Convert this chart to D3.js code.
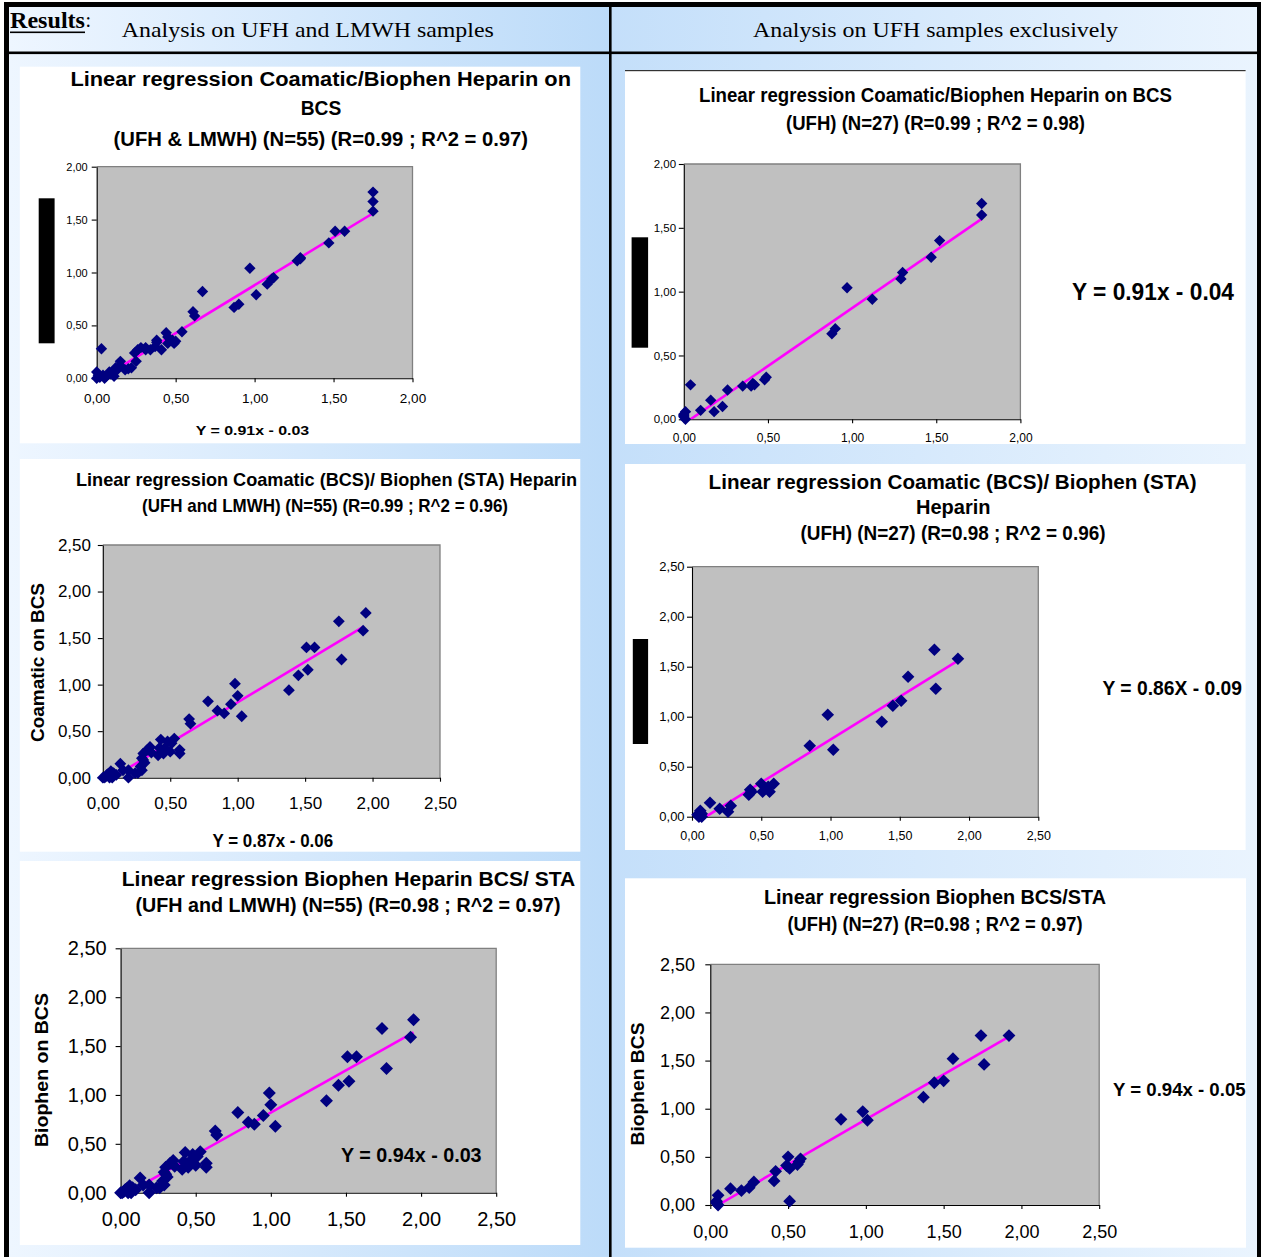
<!DOCTYPE html>
<html><head><meta charset="utf-8">
<script src="https://cdn.jsdelivr.net/npm/d3@7"></script>
<style>html,body{margin:0;padding:0;background:#fff;overflow:hidden}svg{display:block}</style>
</head><body><svg id="c" width="1261" height="1257"></svg>
<script>
// ---------- data ----------
const ticksTo2 = [0, 0.5, 1, 1.5, 2];
const ticksTo25 = [0, 0.5, 1, 1.5, 2, 2.5];
const labelsTo2 = ["0,00", "0,50", "1,00", "1,50", "2,00"];
const labelsTo25 = ["0,00", "0,50", "1,00", "1,50", "2,00", "2,50"];

const headerLeft = "Analysis on UFH and LMWH samples";
const headerRight = "Analysis on UFH samples exclusively";

// Panel 1: Coamatic/Biophen on BCS (UFH & LMWH)
const p1X = [1.75,1.75,1.75,1.57,1.51,1.47,1.29,1.27,1.12,1.11,1.08,0.97,1.01,0.90,0.87,0.67,0.61,0.62,0.54,0.49,0.48,0.45,0.44,0.38,0.37,0.41,0.34,0.31,0.28,0.26,0.24,0.25,0.22,0.18,0.15,0.12,0.11,0.08,0.03,0.00,0.01,0.05,0.00,0.02,0.04,0.06,0.09,0.13,0.15,0.20,0.31,0.50,0.38,1.29,0.45];
const p1Y = [1.76,1.67,1.58,1.39,1.39,1.28,1.14,1.11,0.95,0.94,0.89,1.04,0.79,0.70,0.67,0.82,0.63,0.59,0.44,0.33,0.36,0.39,0.43,0.36,0.30,0.27,0.27,0.27,0.29,0.27,0.24,0.16,0.10,0.08,0.16,0.10,0.02,0.06,0.28,0.06,0.03,0.00,0.00,0.01,0.03,0.02,0.04,0.08,0.12,0.09,0.29,0.35,0.34,1.13,0.33];
const p1TrendX = [0.03, 1.75];
const p1TrendY = [0.00, 1.56];

// Panel 2: Coamatic/Biophen on BCS (UFH)
const p2X = [1.77,1.77,1.52,1.47,1.30,1.29,0.97,1.12,0.90,0.88,0.49,0.48,0.42,0.40,0.35,0.26,0.23,0.16,0.18,0.10,0.04,0.01,0.00,0.01,0.00,0.00,0.41];
const p2Y = [1.69,1.60,1.40,1.27,1.15,1.10,1.03,0.94,0.71,0.67,0.33,0.31,0.27,0.26,0.26,0.23,0.10,0.15,0.06,0.07,0.27,0.06,0.02,0.00,0.03,0.04,0.28];
const p2TrendX = [0.04, 1.77];
const p2TrendY = [0.00, 1.57];

// Panel 3: Coamatic (BCS) / Biophen (STA) (UFH and LMWH)
const p3X = [1.95,1.93,1.75,1.77,1.51,1.57,1.52,1.45,1.38,0.98,1.00,0.95,1.03,0.90,0.85,0.78,0.64,0.65,0.57,0.57,0.53,0.51,0.50,0.46,0.43,0.42,0.41,0.35,0.36,0.30,0.29,0.31,0.29,0.26,0.19,0.19,0.13,0.15,0.06,0.05,0.01,0.07,0.03,0.30,0.48,0.00,0.02,0.04,0.06,0.08,0.10,0.24,0.28,0.33,0.45];
const p3Y = [1.77,1.58,1.68,1.27,1.40,1.40,1.16,1.10,0.94,1.01,0.88,0.79,0.66,0.69,0.72,0.82,0.63,0.58,0.30,0.26,0.42,0.37,0.28,0.32,0.41,0.32,0.24,0.33,0.27,0.26,0.21,0.16,0.08,0.05,0.00,0.08,0.15,0.08,0.07,0.00,0.00,0.00,0.03,0.19,0.39,0.00,0.01,0.04,0.02,0.05,0.03,0.05,0.12,0.30,0.26];
const p3TrendX = [0.07, 1.93];
const p3TrendY = [0.00, 1.62];

// Panel 4: Coamatic (BCS) / Biophen (STA) (UFH)
const p4X = [1.92,1.75,1.76,1.56,1.51,1.45,1.37,0.98,1.02,0.85,0.59,0.56,0.50,0.51,0.42,0.41,0.28,0.26,0.20,0.13,0.06,0.05,0.07,0.04,0.55,0.43,0.07];
const p4Y = [1.58,1.67,1.28,1.40,1.16,1.11,0.95,1.02,0.67,0.71,0.33,0.25,0.33,0.25,0.27,0.22,0.11,0.05,0.08,0.14,0.06,0.00,0.03,0.02,0.30,0.25,0.00];
const p4TrendX = [0.10, 1.92];
const p4TrendY = [0.00, 1.56];

// Panel 5: Biophen BCS / STA (UFH and LMWH)
const p5X = [1.95,1.93,1.74,1.77,1.51,1.57,1.52,1.45,1.37,0.99,1.00,0.95,1.03,0.89,0.85,0.78,0.63,0.64,0.57,0.57,0.53,0.51,0.50,0.46,0.43,0.42,0.41,0.35,0.36,0.30,0.29,0.31,0.29,0.26,0.19,0.19,0.13,0.15,0.06,0.05,0.01,0.07,0.03,0.30,0.48,0.00,0.02,0.04,0.06,0.08,0.10,0.24,0.28,0.33,0.45];
const p5Y = [1.77,1.59,1.68,1.27,1.39,1.39,1.14,1.10,0.94,1.02,0.90,0.79,0.68,0.70,0.72,0.82,0.63,0.59,0.30,0.26,0.42,0.37,0.28,0.32,0.41,0.32,0.24,0.33,0.27,0.26,0.21,0.16,0.08,0.05,0.00,0.08,0.15,0.08,0.07,0.00,0.00,0.00,0.03,0.19,0.39,0.00,0.01,0.04,0.02,0.05,0.03,0.05,0.12,0.30,0.26];
const p5TrendX = [0.05, 1.95];
const p5TrendY = [0.00, 1.64];

// Panel 6: Biophen BCS / STA (UFH)
const p6X = [1.92,1.74,1.76,1.56,1.50,1.44,1.37,0.98,1.01,0.84,0.58,0.56,0.50,0.51,0.49,0.42,0.41,0.28,0.25,0.20,0.13,0.05,0.51,0.04,0.05,0.04,0.57];
const p6Y = [1.76,1.76,1.46,1.52,1.29,1.27,1.12,0.97,0.88,0.89,0.48,0.42,0.50,0.38,0.41,0.35,0.25,0.24,0.18,0.15,0.17,0.10,0.04,0.02,0.00,0.04,0.45];
const p6TrendX = [0.05, 1.92];
const p6TrendY = [0.00, 1.75];

// ---------- drawing ----------
const SANS = "'Liberation Sans', Arial, Helvetica, sans-serif";
const SERIF = "'Liberation Serif', 'Times New Roman', serif";
const svg = d3.select("#c");
const defs = svg.append("defs");

function grad(id, c0, c1) {
  const g = defs.append("linearGradient").attr("id", id).attr("x1", 0).attr("x2", 1).attr("y1", 0).attr("y2", 0);
  g.append("stop").attr("offset", 0).attr("stop-color", c0);
  g.append("stop").attr("offset", 1).attr("stop-color", c1);
}
grad("gL", "#eef6ff", "#bcdbf9");
grad("gR", "#c4dffa", "#eaf4fe");

svg.append("rect").attr("x", 0).attr("y", 0).attr("width", 1261).attr("height", 1257).attr("fill", "#fff");
svg.append("rect").attr("x", 9).attr("y", 7).attr("width", 600).attr("height", 1250).attr("fill", "url(#gL)");
svg.append("rect").attr("x", 611).attr("y", 7).attr("width", 646).attr("height", 1250).attr("fill", "url(#gR)");

// frame
const frame = svg.append("g").attr("fill", "#000");
frame.append("rect").attr("x", 4).attr("y", 2).attr("width", 1257).attr("height", 5);
frame.append("rect").attr("x", 4).attr("y", 2).attr("width", 5).attr("height", 1255);
frame.append("rect").attr("x", 1257).attr("y", 2).attr("width", 4).attr("height", 1255);
frame.append("rect").attr("x", 609).attr("y", 2).attr("width", 2.6).attr("height", 1255);
frame.append("rect").attr("x", 4).attr("y", 51.5).attr("width", 1257).attr("height", 2.6);

// header
svg.append("text").attr("x", 10).attr("y", 28.3).attr("font-family", SERIF).attr("font-weight", "bold")
  .attr("font-size", 23).attr("textLength", 75).attr("lengthAdjust", "spacingAndGlyphs").text("Results");
svg.append("rect").attr("x", 10).attr("y", 31.5).attr("width", 75).attr("height", 1.6).attr("fill", "#000");
svg.append("text").attr("x", 85.5).attr("y", 27).attr("font-family", SERIF).attr("font-size", 20).text(":");
svg.append("text").attr("x", 121.8).attr("y", 37.3).attr("font-family", SERIF).attr("font-size", 22)
  .attr("textLength", 372).attr("lengthAdjust", "spacingAndGlyphs").text(headerLeft);
svg.append("text").attr("x", 753).attr("y", 37.3).attr("font-family", SERIF).attr("font-size", 22)
  .attr("textLength", 365).attr("lengthAdjust", "spacingAndGlyphs").text(headerRight);

const panels = [
  { box: [19.8, 66.7, 580.3, 443.3], x0: 96.7, x1: 412.5, y0: 378.3, y1: 166.7, max: 2, ticks: ticksTo2, labels: labelsTo2,
    xs: p1X, ys: p1Y, tx: p1TrendX, ty: p1TrendY, r: 5.7, yfs: 11, xfs: 13.5, ypad: 4, xpad: 11, xt: 4,
    titles: [["Linear regression Coamatic/Biophen Heparin on", 320.7, 86, 500.6, 19.5],
             ["BCS", 321, 115, 40.5, 19.5],
             ["(UFH & LMWH) (N=55) (R=0.99 ; R^2 = 0.97)", 320.8, 145.5, 414.5, 19.5]],
    eq: ["Y = 0.91x - 0.03", 195.7, 435, 113.5, 13], black: [38.7, 198.3, 15.9, 145] },
  { box: [625, 70, 1245.6, 444], topLine: true, x0: 683.8, x1: 1020.4, y0: 419.3, y1: 164, max: 2, ticks: ticksTo2, labels: labelsTo2,
    xs: p2X, ys: p2Y, tx: p2TrendX, ty: p2TrendY, r: 5.7, yfs: 11.5, xfs: 12, ypad: 2.7, xpad: 10.5, xt: 4,
    titles: [["Linear regression Coamatic/Biophen Heparin on BCS", 935.5, 102, 473, 19.5],
             ["(UFH) (N=27) (R=0.99 ; R^2 = 0.98)", 935.5, 129.5, 299, 19.5]],
    eq: ["Y = 0.91x - 0.04", 1072, 300, 162, 23], black: [631.6, 237.3, 16.5, 110.4] },
  { box: [19.8, 459, 580.3, 851.7], x0: 102.8, x1: 440, y0: 777.7, y1: 545, max: 2.5, ticks: ticksTo25, labels: labelsTo25,
    xs: p3X, ys: p3Y, tx: p3TrendX, ty: p3TrendY, r: 5.9, yfs: 17, xfs: 17, ypad: 6.8, xpad: 15, xt: 4,
    titles: [["Linear regression Coamatic (BCS)/ Biophen (STA) Heparin", 326.5, 486, 501, 18.5],
             ["(UFH and LMWH) (N=55) (R=0.99 ; R^2 = 0.96)", 325, 511.5, 366, 18.5]],
    eq: ["Y = 0.87x - 0.06", 212.6, 846.5, 120.5, 18], ylab: ["Coamatic on BCS", 37, 662.5, 159, 18.5] },
  { box: [625, 464, 1245.6, 850], x0: 692, x1: 1038.3, y0: 816.7, y1: 566.7, max: 2.5, ticks: ticksTo25, labels: labelsTo25,
    xs: p4X, ys: p4Y, tx: p4TrendX, ty: p4TrendY, r: 6.3, yfs: 13, xfs: 12.5, ypad: 2.4, xpad: 10.5, xt: 4,
    titles: [["Linear regression Coamatic (BCS)/ Biophen (STA)", 952.6, 488.5, 488, 19.5],
             ["Heparin", 953.3, 514, 74.6, 19.5],
             ["(UFH) (N=27) (R=0.98 ; R^2 = 0.96)", 953, 540, 305, 19.5]],
    eq: ["Y = 0.86X - 0.09", 1102.5, 694.5, 139.5, 20], black: [632.8, 639, 15.3, 105] },
  { box: [19.8, 861, 580.3, 1245], x0: 120.6, x1: 496.2, y0: 1192.7, y1: 948.3, max: 2.5, ticks: ticksTo25, labels: labelsTo25,
    xs: p5X, ys: p5Y, tx: p5TrendX, ty: p5TrendY, r: 6.5, yfs: 20, xfs: 20, ypad: 8.9, xpad: 15.3, xt: 4,
    titles: [["Linear regression Biophen Heparin BCS/ STA", 348.5, 885.7, 453.5, 19.5],
             ["(UFH and LMWH) (N=55) (R=0.98 ; R^2 = 0.97)", 348, 912.3, 425, 19.5]],
    eq: ["Y = 0.94x - 0.03", 341, 1162.3, 140.6, 20], ylab: ["Biophen on BCS", 41, 1070, 154, 18.5] },
  { box: [625, 878.3, 1246, 1247.7], x0: 710.3, x1: 1099.2, y0: 1205, y1: 964.3, max: 2.5, ticks: ticksTo25, labels: labelsTo25,
    xs: p6X, ys: p6Y, tx: p6TrendX, ty: p6TrendY, r: 6.4, yfs: 18, xfs: 18, ypad: 10.3, xpad: 16, xt: 4,
    titles: [["Linear regression Biophen BCS/STA", 935, 904.3, 342, 19.5],
             ["(UFH) (N=27) (R=0.98 ; R^2 = 0.97)", 935, 931, 295, 19.5]],
    eq: ["Y = 0.94x - 0.05", 1113, 1095.7, 132.6, 19], ylab: ["Biophen BCS", 637, 1084, 123, 18.5] }
];

panels.forEach((p, i) => {
  const g = svg.append("g");
  g.append("rect").attr("x", p.box[0]).attr("y", p.box[1]).attr("width", p.box[2] - p.box[0])
    .attr("height", p.box[3] - p.box[1]).attr("fill", "#fff");
  if (p.topLine) g.append("rect").attr("x", p.box[0]).attr("y", p.box[1]).attr("width", p.box[2] - p.box[0])
    .attr("height", 1.2).attr("fill", "#333");

  const x = d3.scaleLinear().domain([0, p.max]).range([p.x0, p.x1]);
  const y = d3.scaleLinear().domain([0, p.max]).range([p.y0, p.y1]);

  // plot area
  g.append("rect").attr("x", p.x0).attr("y", p.y1).attr("width", p.x1 - p.x0).attr("height", p.y0 - p.y1).attr("fill", "#c0c0c0");
  g.append("path").attr("d", `M${p.x0},${p.y1}H${p.x1}V${p.y0}`).attr("fill", "none").attr("stroke", "#808080").attr("stroke-width", 1.3);

  // axes
  const xa = g.append("g").attr("transform", `translate(0,${p.y0})`)
    .call(d3.axisBottom(x).tickValues(p.ticks).tickFormat((d, k) => p.labels[k]).tickSizeInner(p.xt).tickSizeOuter(0).tickPadding(p.xpad));
  xa.attr("font-family", SANS).attr("font-size", p.xfs);
  const ya = g.append("g").attr("transform", `translate(${p.x0},0)`)
    .call(d3.axisLeft(y).tickValues(p.ticks).tickFormat((d, k) => p.labels[k]).tickSizeInner(5).tickSizeOuter(0).tickPadding(p.ypad));
  ya.attr("font-family", SANS).attr("font-size", p.yfs);
  [xa, ya].forEach(a => {
    a.selectAll("path,line").attr("stroke", "#000").attr("stroke-width", 1.1);
    a.selectAll("text").attr("fill", "#000");
  });

  // trend line (clipped to plot area)
  const cid = "clip" + i;
  defs.append("clipPath").attr("id", cid).append("rect").attr("x", p.x0).attr("y", p.y1)
    .attr("width", p.x1 - p.x0).attr("height", p.y0 - p.y1);
  const tline = p.tx.map((v, k) => [v, p.ty[k]]);
  g.append("path").datum(tline).attr("clip-path", `url(#${cid})`)
    .attr("d", d3.line().x(d => x(d[0])).y(d => y(d[1])))
    .attr("fill", "none").attr("stroke", "#ff00ff").attr("stroke-width", 2.6);

  // markers
  const pts = p.xs.map((v, k) => [v, p.ys[k]]);
  const sym = d3.symbol().type(d3.symbolSquare).size(2 * p.r * p.r);
  g.append("g").selectAll("path").data(pts).join("path")
    .attr("transform", d => `translate(${x(d[0])},${y(d[1])}) rotate(45)`)
    .attr("d", sym).attr("fill", "#000080");

  // titles
  p.titles.forEach(t => {
    g.append("text").attr("x", t[1]).attr("y", t[2]).attr("text-anchor", "middle")
      .attr("font-family", SANS).attr("font-weight", "bold").attr("font-size", t[4])
      .attr("textLength", t[3]).attr("lengthAdjust", "spacingAndGlyphs").text(t[0]);
  });
  // equation
  g.append("text").attr("x", p.eq[1]).attr("y", p.eq[2]).attr("font-family", SANS).attr("font-weight", "bold")
    .attr("font-size", p.eq[4]).attr("textLength", p.eq[3]).attr("lengthAdjust", "spacingAndGlyphs").text(p.eq[0]);
  // y axis title
  if (p.ylab) {
    g.append("text").attr("transform", `translate(${p.ylab[1]},${p.ylab[2]}) rotate(-90)`)
      .attr("text-anchor", "middle").attr("dominant-baseline", "central")
      .attr("font-family", SANS).attr("font-weight", "bold").attr("font-size", p.ylab[4])
      .attr("textLength", p.ylab[3]).attr("lengthAdjust", "spacingAndGlyphs").text(p.ylab[0]);
  }
  // redacted label block
  if (p.black) g.append("rect").attr("x", p.black[0]).attr("y", p.black[1]).attr("width", p.black[2])
    .attr("height", p.black[3]).attr("fill", "#000");
});
</script>
</body></html>
